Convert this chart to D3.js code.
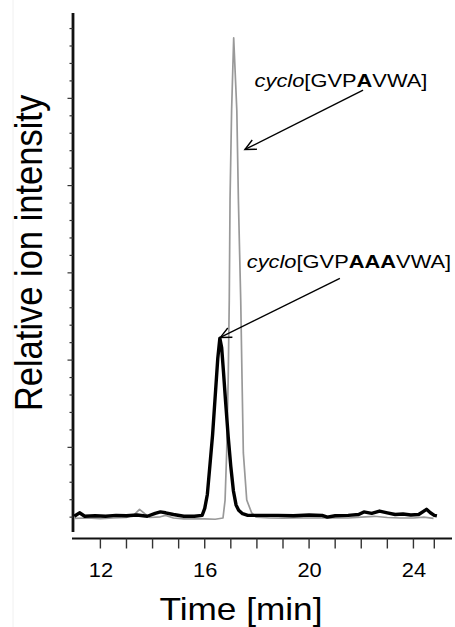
<!DOCTYPE html>
<html>
<head>
<meta charset="utf-8">
<script src="https://cdn.jsdelivr.net/npm/d3@7"></script>
<style>
  html, body { margin: 0; padding: 0; background: #fff; }
  svg { display: block; }
  text { font-family: "Liberation Sans", Arial, sans-serif; fill: #000; }
</style>
</head>
<body>
<svg id="chart" width="455" height="627"></svg>
<script>
// Extracted ion chromatograms (retention time in min, intensity in arbitrary units)
const aaaTime = [11.0, 11.2, 11.4, 11.8, 12.2, 12.6, 13.0, 13.4, 13.8, 14.1, 14.3, 14.5, 14.8, 15.2, 15.6, 15.9,
  16.0, 16.1, 16.2, 16.3, 16.4, 16.5, 16.58, 16.65, 16.72, 16.8, 16.9, 17.0, 17.1, 17.2, 17.3, 17.45, 17.65,
  18.2, 18.8, 19.4, 20.0, 20.5, 20.7, 21.0, 21.5, 21.9, 22.1, 22.4, 22.7, 23.0, 23.3, 23.6, 23.9, 24.2, 24.4,
  24.5, 24.65, 24.8, 24.9];
const aaaIntensity = [1.05, 1.25, 1.05, 1.08, 1.05, 1.1, 1.08, 1.12, 1.05, 1.22, 1.3, 1.25, 1.15, 1.05, 1.05, 1.1,
  1.5, 2.3, 4.0, 5.7, 7.9, 10.1, 11.25, 10.7, 9.3, 7.6, 5.6, 3.9, 2.5, 1.7, 1.4, 1.2, 1.1,
  1.1, 1.1, 1.08, 1.12, 1.1, 1.0, 1.08, 1.1, 1.15, 1.3, 1.22, 1.35, 1.25, 1.15, 1.18, 1.12, 1.15, 1.35,
  1.45, 1.25, 1.1, 1.07];

const aTime = [11.0, 11.5, 12.0, 12.5, 13.0, 13.3, 13.5, 13.7, 13.9, 14.3, 14.5, 14.8, 15.2, 15.6, 16.0, 16.4,
  16.7, 16.78, 16.84, 16.9, 16.94, 16.97, 17.03, 17.11, 17.23, 17.29, 17.38, 17.43, 17.48, 17.61, 17.8, 17.97,
  18.5, 19.0, 19.5, 20.0, 20.5, 21.0, 21.5, 22.0, 22.5, 23.0, 23.5, 24.0, 24.4, 24.77];
const aIntensity = [0.93, 0.95, 0.92, 0.95, 0.98, 1.15, 1.45, 1.2, 0.98, 1.02, 1.1, 0.95, 0.9, 0.92, 0.9, 0.88,
  0.95, 1.98, 4.68, 9.0, 13.4, 19.2, 24.3, 28.46, 24.3, 19.2, 13.4, 8.9, 4.68, 1.98, 1.24, 1.0,
  0.95, 0.94, 0.96, 0.95, 0.96, 0.95, 0.95, 1.0, 1.05, 0.98, 0.95, 0.95, 1.0, 0.93];

// Axis ticks
const timeTicks = [12, 13, 14, 15, 16, 17, 18, 19, 20, 21, 22, 23, 24, 24.8];
const timeTickLabels = [12, 16, 20, 24];
const intensityTicks = [1, 2, 3, 4, 5, 6, 7, 8, 9, 10, 11, 12, 13, 14, 15, 16, 17, 18, 19, 20,
  21, 22, 23, 24, 25, 26, 27, 28, 29];
const intensityMajorTicks = [5, 10, 15, 20, 25];

// Peak annotations: label anchor and arrow start/tip in data units
const annotationParts = [
  [{ t: "cyclo", style: "italic" }, { t: "[GVP" }, { t: "A", weight: "bold" }, { t: "VWA]" }],
  [{ t: "cyclo", style: "italic" }, { t: "[GVP" }, { t: "AAA", weight: "bold" }, { t: "VWA]" }]
];
const annotationAnchor = [[17.91, 25.67], [17.61, 15.26]];
const arrowStart = [[22.07, 25.47], [21.18, 14.68]];
const arrowTip = [[17.54, 22.07], [16.6, 11.3]];

const svg = d3.select("#chart");
const X_STRETCH = 1.12;

const x = d3.scaleLinear().domain([11, 24.8]).range([74.3, 434.3]);
const y = d3.scaleLinear().domain([0, 30]).range([534.6, 11.1]);

// faint frame line at left edge
svg.append("line").attr("x1", 13).attr("x2", 13).attr("y1", 0).attr("y2", 627)
  .attr("stroke", "#f0f0f0").attr("stroke-width", 1);

// x axis
const xAxisY = 538.5;
const xAxis = svg.append("g").attr("transform", `translate(0,${xAxisY})`);
xAxis.append("line").attr("x1", 72).attr("x2", 452).attr("y1", 0).attr("y2", 0)
  .attr("stroke", "#111").attr("stroke-width", 2);
xAxis.selectAll("line.tick").data(timeTicks).join("line").attr("class", "tick")
  .attr("x1", d => x(d)).attr("x2", d => x(d)).attr("y1", 0).attr("y2", 10)
  .attr("stroke", "#333").attr("stroke-width", 1.4);
xAxis.selectAll("text").data(timeTickLabels).join("text")
  .attr("transform", d => `translate(${x(d) + 0.5},${577 - xAxisY}) scale(${X_STRETCH},1)`)
  .attr("text-anchor", "middle").style("font-size", "19.5px").text(d => d);

// y axis
const yAxis = svg.append("g");
yAxis.append("line").attr("x1", 73).attr("x2", 73).attr("y1", 13).attr("y2", 532)
  .attr("stroke", "#111").attr("stroke-width", 2.8);
yAxis.selectAll("line.tick").data(intensityTicks).join("line").attr("class", "tick")
  .attr("x1", d => intensityMajorTicks.includes(d) ? 67.5 : 69.5).attr("x2", 73)
  .attr("y1", d => y(d)).attr("y2", d => y(d))
  .attr("stroke", "#333").attr("stroke-width", 1.2);

// axis titles
svg.append("text")
  .attr("transform", `translate(241,620) scale(1.1,1)`)
  .attr("text-anchor", "middle").style("font-size", "32px").text("Time [min]");
svg.append("text")
  .attr("transform", `translate(41.5,253) scale(1.12,1) rotate(-90)`)
  .attr("text-anchor", "middle").style("font-size", "34.5px").text("Relative ion intensity");

// chromatogram traces
const line = d3.line().x(d => x(d[0])).y(d => y(d[1])).curve(d3.curveLinear);
svg.append("path").datum(d3.zip(aTime, aIntensity))
  .attr("d", line).attr("fill", "none").attr("stroke", "#999")
  .attr("stroke-width", 1.7).attr("stroke-linejoin", "round");
svg.append("path").datum(d3.zip(aaaTime, aaaIntensity))
  .attr("d", line).attr("fill", "none").attr("stroke", "#000")
  .attr("stroke-width", 3.4).attr("stroke-linejoin", "round");

// annotations with open arrowheads
annotationParts.forEach((parts, i) => {
  const [ax, ay] = annotationAnchor[i];
  const label = svg.append("text")
    .attr("transform", `translate(${x(ax)},${y(ay)}) scale(1.15,1)`)
    .style("font-size", "19px");
  parts.forEach(p => {
    label.append("tspan").text(p.t)
      .style("font-style", p.style || "normal")
      .style("font-weight", p.weight || "normal");
  });

  const x0 = x(arrowStart[i][0]), y0 = y(arrowStart[i][1]);
  const x1 = x(arrowTip[i][0]), y1 = y(arrowTip[i][1]);
  svg.append("line").attr("x1", x0).attr("y1", y0).attr("x2", x1).attr("y2", y1)
    .attr("stroke", "#000").attr("stroke-width", 1.4);
  const ang = Math.atan2(y0 - y1, x0 - x1);
  const headLen = 12, spread = 0.45;
  const head = [
    [x1 + headLen * Math.cos(ang - spread), y1 + headLen * Math.sin(ang - spread)],
    [x1, y1],
    [x1 + headLen * Math.cos(ang + spread), y1 + headLen * Math.sin(ang + spread)]
  ];
  svg.append("path").attr("d", d3.line()(head)).attr("fill", "none")
    .attr("stroke", "#000").attr("stroke-width", 1.4).attr("stroke-linejoin", "miter");
});
</script>
</body>
</html>
